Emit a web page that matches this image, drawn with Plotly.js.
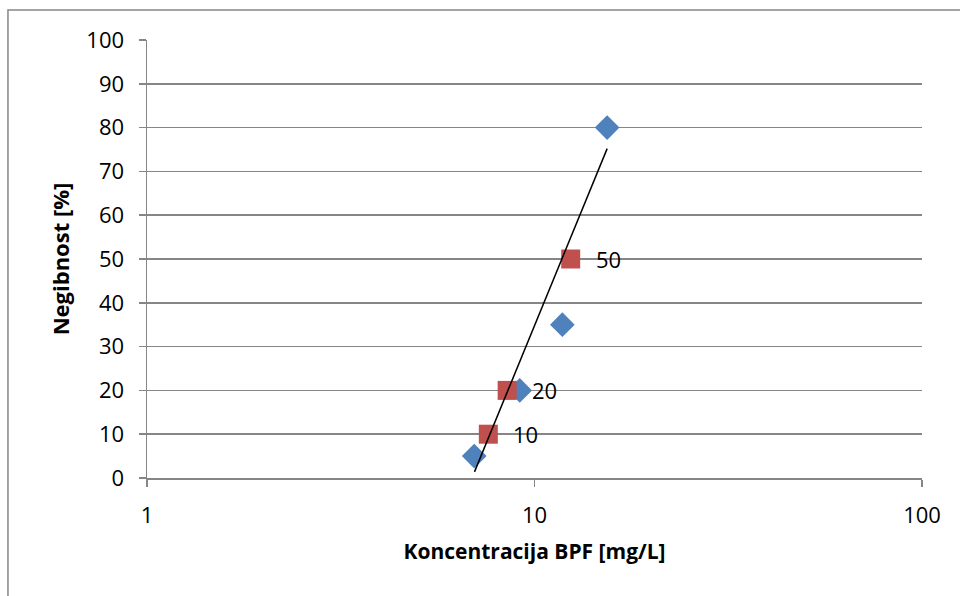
<!DOCTYPE html>
<html>
<head>
<meta charset="utf-8">
<script src="https://cdn.plot.ly/plotly-3.0.1.min.js"></script>
<style>
html,body{margin:0;padding:0;background:#fff;}
#chart{width:960px;height:596px;}
</style>
</head>
<body>
<div id="chart"></div>
<script>
// Measured points (blue diamonds)
const measuredX = [6.99, 9.16, 11.8, 15.4];
const measuredY = [5, 20, 35, 80];
// Effective concentrations (red squares)
const ecX = [7.6, 8.5, 12.4];
const ecY = [10, 20, 50];
const ecLabels = ["10", "20", "50"];
// Trend line endpoints
const trendX = [7.0, 15.4];
const trendY = [1.4, 75.2];
// Axis ticks
const xTicks = [1, 10, 100];
const xTickText = ["1", "10", "100"];
const yTicks = [0, 10, 20, 30, 40, 50, 60, 70, 80, 90, 100];

const FONT = "Open Sans, Liberation Sans, sans-serif";

const traces = [
  {
    x: measuredX, y: measuredY, type: 'scatter', mode: 'markers',
    marker: {symbol: 'diamond', size: 19, color: '#4F81BD', line: {width: 0}},
    hoverinfo: 'skip', showlegend: false
  },
  {
    x: ecX, y: ecY, type: 'scatter', mode: 'markers',
    marker: {symbol: 'square', size: 19, color: '#C0504D', line: {width: 0}},
    hoverinfo: 'skip', showlegend: false
  },
  {
    x: trendX, y: trendY, type: 'scatter', mode: 'lines',
    line: {color: '#000000', width: 1.5},
    hoverinfo: 'skip', showlegend: false
  }
];

const annotations = ecX.map((x, i) => ({
  x: Math.log10(x), y: ecY[i], xref: 'x', yref: 'y',
  text: ecLabels[i], showarrow: false, xanchor: 'left', yanchor: 'middle',
  xshift: 23, font: {family: FONT, size: 22, color: '#000'}
}));

const layout = {
  width: 960, height: 596,
  margin: {l: 147, r: 38, t: 40, b: 118},
  paper_bgcolor: '#ffffff', plot_bgcolor: '#ffffff',
  font: {family: FONT, size: 22, color: '#000'},
  xaxis: {
    type: 'log', range: [0, 2],
    tickvals: xTicks, ticktext: xTickText,
    showgrid: false, zeroline: false,
    showline: true, linecolor: '#868686', linewidth: 1.5,
    ticks: 'outside', ticklen: 7, tickcolor: '#868686', tickwidth: 1.5,
    ticklabelstandoff: 10,
    tickfont: {family: FONT, size: 22, color: '#000'},
    title: {text: '<b>Koncentracija BPF [mg/L]</b>', font: {family: FONT, size: 21, color: '#000'}, standoff: 16}
  },
  yaxis: {
    range: [0, 100], tickvals: yTicks,
    showgrid: true, gridcolor: '#868686', gridwidth: 1.5,
    zeroline: false,
    showline: true, linecolor: '#868686', linewidth: 1.5,
    ticks: 'outside', ticklen: 7, tickcolor: '#868686', tickwidth: 1.5,
    ticklabelstandoff: 10,
    tickfont: {family: FONT, size: 22, color: '#000'},
    title: {text: '<b>Negibnost [%]</b>', font: {family: FONT, size: 22, color: '#000'}, standoff: 10}
  },
  shapes: [
    {type: 'rect', xref: 'paper', yref: 'paper',
     x0: -0.1794, x1: 1.2, y0: -0.4, y1: 1.0685,
     line: {color: '#868686', width: 1.5}, fillcolor: 'rgba(0,0,0,0)', layer: 'below'}
  ],
  annotations: annotations
};

Plotly.newPlot('chart', traces, layout, {staticPlot: true, displayModeBar: false});
</script>
</body>
</html>
